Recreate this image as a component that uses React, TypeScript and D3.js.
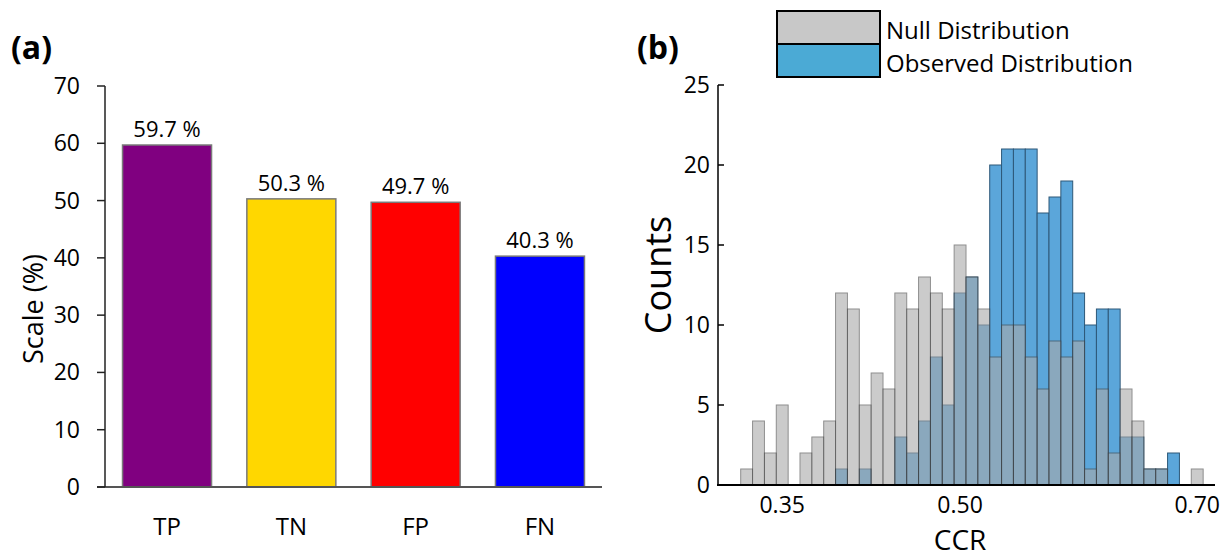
import React from 'react';
import * as d3 from 'd3';

// panel (a)
const categories = ['TP', 'TN', 'FP', 'FN'];
const rates = [59.7, 50.3, 49.7, 40.3];
const barColors = ['#800080', '#FFD700', '#FF0000', '#0000FF'];
const rateTicks = [0, 10, 20, 30, 40, 50, 60, 70];

// panel (b) - histogram bins of CCR, width 0.01
const binCenters = [
  0.32, 0.33, 0.34, 0.35, 0.36, 0.37, 0.38, 0.39, 0.4, 0.41, 0.42, 0.43, 0.44,
  0.45, 0.46, 0.47, 0.48, 0.49, 0.5, 0.51, 0.52, 0.53, 0.54, 0.55, 0.56, 0.57,
  0.58, 0.59, 0.6, 0.61, 0.62, 0.63, 0.64, 0.65, 0.66, 0.67, 0.68, 0.69, 0.7,
];
const nullCounts = [
  1, 4, 2, 5, 0, 2, 3, 4, 12, 11, 5, 7, 6, 12, 11, 13, 12, 11, 15, 13, 11, 8, 10,
  10, 8, 6, 9, 8, 9, 1, 6, 2, 6, 4, 1, 1, 0, 0, 1,
];
const observedCounts = [
  0, 0, 0, 0, 0, 0, 0, 0, 1, 0, 1, 0, 0, 3, 2, 4, 8, 5, 12, 13, 10, 20, 21, 21,
  21, 17, 18, 19, 12, 10, 11, 11, 3, 3, 1, 1, 2, 0, 0,
];
const binWidth = 0.01;
const countTicks = [0, 5, 10, 15, 20, 25];
const ccrTicks = [0.35, 0.5, 0.7];
const legendItems = ['Null Distribution', 'Observed Distribution'];
const legendColors = ['#C8C8C8', '#4BAAD5'];

const FONT = '"Open Sans", "Noto Sans", sans-serif';

export default function App() {
  // left chart scales
  const xa = d3
    .scaleBand()
    .domain(categories)
    .range([105, 602])
    .paddingInner(0.284)
    .paddingOuter(0.141);
  const ya = d3.scaleLinear().domain([0, 70]).range([487, 86]);

  // right chart scales
  const xb = d3.scaleLinear().domain([0.295, 0.715]).range([717, 1215]);
  const yb = d3.scaleLinear().domain([0, 25]).range([485, 85]);

  const binRect = (c: number, v: number) => ({
    x: xb(c - binWidth / 2),
    width: xb(c + binWidth / 2) - xb(c - binWidth / 2),
    y: yb(v),
    height: yb(0) - yb(v),
  });

  return (
    <svg
      width={1227}
      height={557}
      style={{ position: 'absolute', left: 0, top: 0, background: '#fff' }}
      fontFamily={FONT}
    >
      {/* ---------- (a) ---------- */}
      <text x={11} y={59} fontSize={32} fontWeight="bold">
        (a)
      </text>
      {categories.map((c, i) => (
        <g key={c}>
          <rect
            x={xa(c)}
            y={ya(rates[i])}
            width={xa.bandwidth()}
            height={ya(0) - ya(rates[i])}
            fill={barColors[i]}
            stroke="#7a7a7a"
            strokeWidth={1.5}
          />
          <text
            x={xa(c)! + xa.bandwidth() / 2}
            y={ya(rates[i]) - 8}
            textAnchor="middle"
            fontSize={22}
          >
            {rates[i].toFixed(1)} %
          </text>
          <text
            x={xa(c)! + xa.bandwidth() / 2}
            y={535}
            textAnchor="middle"
            fontSize={24}
          >
            {c}
          </text>
        </g>
      ))}
      <line x1={97} x2={602} y1={ya(0)} y2={ya(0)} stroke="#555" strokeWidth={2} />
      <line x1={105} x2={105} y1={ya(70)} y2={ya(0)} stroke="#222" strokeWidth={1.5} />
      {rateTicks.map((t) => (
        <g key={t}>
          <line x1={97} x2={105} y1={ya(t)} y2={ya(t)} stroke="#222" strokeWidth={1.5} />
          <text x={80} y={ya(t) + 8} textAnchor="end" fontSize={23}>
            {t}
          </text>
        </g>
      ))}
      <text
        transform="translate(43,309) rotate(-90)"
        textAnchor="middle"
        fontSize={27}
      >
        Scale (%)
      </text>

      {/* ---------- (b) ---------- */}
      <text x={637} y={59} fontSize={32} fontWeight="bold">
        (b)
      </text>
      {binCenters.map((c, i) =>
        observedCounts[i] > 0 ? (
          <rect
            key={'o' + i}
            {...binRect(c, observedCounts[i])}
            fill="#5BA6DA"
            stroke="#2E5878"
            strokeWidth={1}
          />
        ) : null
      )}
      {binCenters.map((c, i) =>
        nullCounts[i] > 0 ? (
          <rect
            key={'n' + i}
            {...binRect(c, nullCounts[i])}
            fill="#AAAAAA"
            stroke="#444"
            strokeWidth={1}
            opacity={0.6}
          />
        ) : null
      )}
      <line x1={717} x2={1215} y1={yb(0)} y2={yb(0)} stroke="#000" strokeWidth={2} />
      <line x1={718} x2={718} y1={yb(25)} y2={yb(0)} stroke="#000" strokeWidth={1.5} />
      {countTicks.map((t) => (
        <g key={t}>
          <line x1={718} x2={724} y1={yb(t)} y2={yb(t)} stroke="#000" strokeWidth={1.5} />
          <text x={710} y={yb(t) + 8} textAnchor="end" fontSize={23}>
            {t}
          </text>
        </g>
      ))}
      {ccrTicks.map((t) => (
        <text key={t} x={xb(t)} y={513} textAnchor="middle" fontSize={23}>
          {t.toFixed(2)}
        </text>
      ))}
      <text x={xb(0.5)} y={550} textAnchor="middle" fontSize={28}>
        CCR
      </text>
      <text
        transform="translate(671,275) rotate(-90)"
        textAnchor="middle"
        fontSize={36}
      >
        Counts
      </text>

      {/* legend */}
      {legendItems.map((name, i) => (
        <g key={name}>
          <rect
            x={777}
            y={11 + i * 33}
            width={103}
            height={33}
            fill={legendColors[i]}
            stroke="#000"
            strokeWidth={2}
          />
          <text x={886} y={39 + i * 33} fontSize={24}>
            {name}
          </text>
        </g>
      ))}
    </svg>
  );
}
